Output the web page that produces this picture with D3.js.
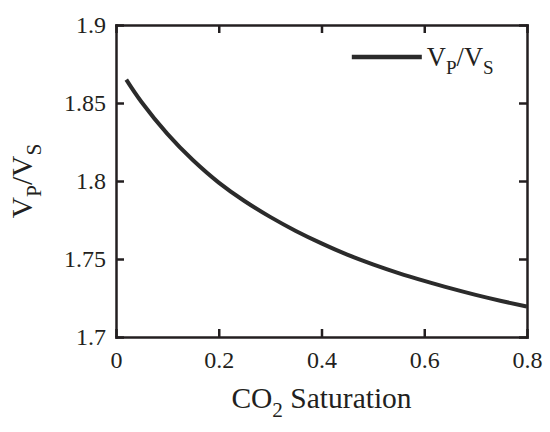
<!DOCTYPE html>
<html>
<head>
<meta charset="utf-8">
<script src="https://cdn.jsdelivr.net/npm/d3@7"></script>
<style>
  html, body { margin: 0; padding: 0; background: #fff; }
  .axis path, .axis line { stroke: #231f20; stroke-width: 2.5px; }
</style>
</head>
<body>
<div class="chart-wrapper"></div>
<script>
// CO2 saturation vs Vp/Vs
const saturation = [0.02, 0.05, 0.1, 0.15, 0.2, 0.25, 0.3, 0.35, 0.4, 0.45, 0.5, 0.55, 0.6, 0.65, 0.7, 0.75, 0.8];
const vpvs = [1.865, 1.8505, 1.8302, 1.8133, 1.799, 1.7872, 1.777, 1.768, 1.76, 1.7528, 1.7466, 1.741, 1.736, 1.7313, 1.727, 1.7231, 1.7195];

const xTicks = [0, 0.2, 0.4, 0.6, 0.8];
const yTicks = [1.7, 1.75, 1.8, 1.85, 1.9];

const serif = "'Liberation Serif', serif";
const ink = "#231f20";

// sizes
const svgWidth = 550;
const svgHeight = 432;
const margin = { top: 25, right: 23, bottom: 95, left: 116 };
const innerWidth = svgWidth - margin.left - margin.right;
const innerHeight = svgHeight - margin.top - margin.bottom;

const svg = d3.select(".chart-wrapper")
    .append("svg")
    .attr("width", svgWidth)
    .attr("height", svgHeight)
    .style("font-family", serif);

const chart = svg.append("g")
    .attr("transform", `translate(${margin.left},${margin.top})`);

const xScale = d3.scaleLinear().domain([0, 0.8]).range([0, innerWidth]);
const yScale = d3.scaleLinear().domain([1.7, 1.9]).range([innerHeight, 0]);

const tickLen = 8;

// style axis labels: d3 puts font-family="sans-serif" on the group, override it
function styleAxis(g) {
    g.attr("font-family", null).attr("font-size", null);
    g.selectAll("text")
        .style("font-family", serif)
        .style("font-size", "24px")
        .attr("fill", ink);
}

// bottom + left axes with labels, ticks pointing inward
chart.append("g")
    .attr("class", "axis")
    .attr("transform", `translate(0,${innerHeight})`)
    .call(d3.axisBottom(xScale).tickValues(xTicks).tickFormat(d => d)
        .tickSizeInner(-tickLen).tickSizeOuter(0).tickPadding(14))
    .call(styleAxis);

chart.append("g")
    .attr("class", "axis")
    .call(d3.axisLeft(yScale).tickValues(yTicks).tickFormat(d => d)
        .tickSizeInner(-tickLen).tickSizeOuter(0).tickPadding(10))
    .call(styleAxis);

// mirrored top + right axes, ticks only
chart.append("g")
    .attr("class", "axis")
    .call(d3.axisTop(xScale).tickValues(xTicks).tickFormat("")
        .tickSizeInner(-tickLen).tickSizeOuter(0));

chart.append("g")
    .attr("class", "axis")
    .attr("transform", `translate(${innerWidth},0)`)
    .call(d3.axisRight(yScale).tickValues(yTicks).tickFormat("")
        .tickSizeInner(-tickLen).tickSizeOuter(0));

chart.selectAll(".axis path.domain").attr("stroke-linecap", "square");

// curve
const points = saturation.map((s, i) => [s, vpvs[i]]);
const line = d3.line()
    .x(d => xScale(d[0]))
    .y(d => yScale(d[1]))
    .curve(d3.curveNatural);

chart.append("path")
    .datum(points)
    .attr("d", line)
    .attr("fill", "none")
    .attr("stroke", "#2b2b2b")
    .attr("stroke-width", 4);

// legend
const legend = chart.append("g")
    .attr("transform", `translate(${xScale(0.459)},${yScale(1.8795)})`);

legend.append("line")
    .attr("x1", 0)
    .attr("x2", 70)
    .attr("stroke", "#2b2b2b")
    .attr("stroke-width", 4.5);

// helper for V_P/V_S style text
function subText(sel, parts, size) {
    sel.style("font-family", serif).attr("fill", ink);
    parts.forEach(p => {
        const t = sel.append("tspan").text(p.t);
        if (p.sub) {
            t.style("font-size", (size * 0.72) + "px").attr("dy", size * 0.3);
        } else if (p.back) {
            t.attr("dy", -size * 0.3);
        }
    });
}

const legendText = legend.append("text")
    .attr("x", 75)
    .attr("y", 9)
    .style("font-size", "26.5px");
subText(legendText, [{ t: "V" }, { t: "P", sub: true }, { t: "/V", back: true }, { t: "S", sub: true }], 26.5);

// x axis title
const xTitle = svg.append("text")
    .attr("x", margin.left + innerWidth / 2)
    .attr("y", 408)
    .attr("text-anchor", "middle")
    .style("font-size", "29.5px");
subText(xTitle, [{ t: "CO" }, { t: "2", sub: true }, { t: " Saturation", back: true }], 29.5);

// y axis title
const yTitle = svg.append("text")
    .attr("transform", `translate(32,${margin.top + innerHeight / 2}) rotate(-90)`)
    .attr("text-anchor", "middle")
    .style("font-size", "29.5px");
subText(yTitle, [{ t: "V" }, { t: "P", sub: true }, { t: "/V", back: true }, { t: "S", sub: true }], 29.5);
</script>
</body>
</html>
